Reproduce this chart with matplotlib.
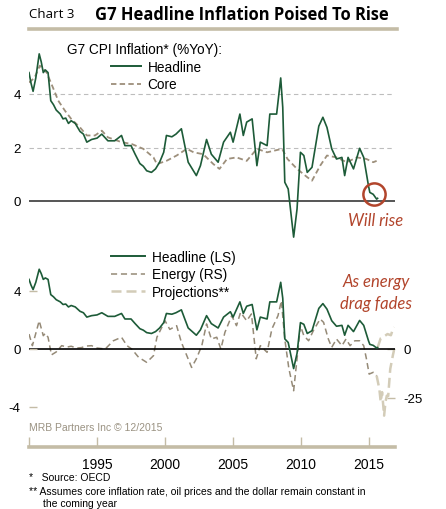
import numpy as np
import matplotlib
matplotlib.use('Agg')
import matplotlib.pyplot as plt
from matplotlib.lines import Line2D

plt.rcParams['font.family'] = ['Liberation Sans', 'DejaVu Sans']
plt.rcParams['axes.unicode_minus'] = False

# headline G7 CPI inflation, %YoY
head_t = [1990.0, 1990.15, 1990.3, 1990.5, 1990.75, 1990.9, 1991.05, 1991.2, 1991.4, 1991.6,
          1991.8, 1992.0, 1992.3, 1992.5, 1992.7, 1992.9, 1993.1, 1993.4, 1993.75, 1994.0,
          1994.25, 1994.6, 1995.0, 1995.35, 1995.8, 1996.3, 1996.8, 1997.05, 1997.5, 1997.8,
          1998.15, 1998.4, 1998.65, 1999.0, 1999.3, 1999.6, 1999.9, 2000.1, 2000.5, 2000.8,
          2001.2, 2001.45, 2001.7, 2002.0, 2002.3, 2002.6, 2003.05, 2003.4, 2003.9, 2004.3,
          2004.8, 2005.0, 2005.5, 2005.75, 2006.0, 2006.4, 2006.75, 2007.0, 2007.5, 2007.7,
          2008.2, 2008.5, 2008.65, 2008.8, 2009.05, 2009.45, 2009.7, 2009.95, 2010.2, 2010.45,
          2010.8, 2011.3, 2011.6, 2011.9, 2012.25, 2012.6, 2013.0, 2013.2, 2013.45, 2013.85,
          2014.3, 2014.6, 2014.95, 2015.05, 2015.3, 2015.55, 2015.62]
head_v = [4.8, 4.4, 4.1, 4.6, 5.5, 5.2, 4.8, 4.9, 4.8, 3.75,
          3.6, 3.4, 3.25, 3.07, 3.1, 2.9, 3.0, 2.9, 2.6, 2.5,
          2.2, 2.3, 2.35, 2.5, 2.25, 2.25, 2.45, 2.07, 2.07, 1.75,
          1.4, 1.3, 1.13, 1.07, 1.2, 1.45, 1.82, 2.45, 2.4, 2.5,
          2.7, 2.07, 1.45, 1.2, 0.95, 1.32, 2.3, 1.75, 1.45, 2.2,
          2.57, 2.2, 3.25, 2.45, 2.95, 3.07, 1.32, 2.2, 2.07, 3.25,
          3.25, 4.6, 3.5, 0.7, 0.45, -1.35, -0.3, 1.82, 1.7, 1.07,
          1.26, 2.8, 3.13, 2.75, 1.95, 1.57, 1.63, 0.95, 1.63, 1.2,
          1.97, 1.63, 0.57, 0.32, 0.25, 0.07, 0.1]

# core inflation
core_t = [1990.0, 1990.4, 1990.8, 1991.3, 1991.8, 1992.15, 1992.65, 1993.1, 1993.75, 1994.25,
          1994.85, 1995.35, 1995.8, 1996.8, 1997.55, 1998.4, 1999.15, 1999.4, 2000.1, 2000.85,
          2001.6, 2002.1, 2002.8, 2003.55, 2004.0, 2004.55, 2005.25, 2006.0, 2006.75, 2007.5,
          2008.6, 2009.0, 2009.7, 2010.45, 2010.8, 2011.4, 2011.9, 2012.6, 2013.35, 2014.1,
          2014.8, 2015.3, 2015.55]
core_v = [4.43, 4.6, 5.06, 4.8, 4.19, 3.75, 3.37, 3.07, 2.75, 2.45,
          2.45, 2.63, 2.38, 2.2, 2.13, 1.95, 1.63, 1.38, 1.5, 1.7,
          1.95, 1.82, 1.75, 1.38, 1.2, 1.57, 1.63, 1.5, 1.95, 1.82,
          1.95, 1.57, 1.2, 0.89, 0.76, 1.32, 1.7, 1.63, 1.45, 1.63,
          1.57, 1.45, 1.5]

# energy inflation (right scale)
energy_t = [1990.0, 1990.25, 1990.5, 1990.75, 1991.05, 1991.2, 1991.4, 1991.65, 1992.0, 1992.4,
            1992.8, 1993.1, 1993.5, 1993.85, 1994.2, 1994.6, 1995.0, 1995.6, 1996.2, 1996.8,
            1997.2, 1997.55, 1998.05, 1998.65, 1999.15, 1999.4, 2000.0, 2000.35, 2000.85, 2001.2,
            2001.6, 2001.95, 2002.3, 2002.7, 2003.05, 2003.4, 2003.8, 2004.1, 2004.4, 2004.9,
            2005.25, 2005.55, 2006.0, 2006.35, 2006.7, 2007.0, 2007.5, 2007.85, 2008.3, 2008.55,
            2008.8, 2009.1, 2009.45, 2009.7, 2009.95, 2010.2, 2010.55, 2010.9, 2011.4, 2011.65,
            2012.0, 2012.25, 2012.6, 2013.0, 2013.3, 2013.6, 2013.95, 2014.3, 2014.6, 2014.8,
            2015.0, 2015.3, 2015.55]
energy_v = [7.6, 1.7, 8, 14.4, 6.8, 8, 6, -3, -1.5, 1.7,
            1.0, 1.4, 0.5, 0.7, 1.5, 1.7, 0.5, 0, 4.2, 6,
            1.7, 0, -4.2, -6.8, -3.4, 6, 14.4, 10, 11.9, 3.4,
            -3.4, -9.4, -5, 1.7, 12.8, 5.1, 6, 0, 8.5, 17,
            11.9, 18.7, 14.4, 17.9, -5, 1.7, -1.7, 10.2, 17, 24.6,
            5, -10, -21.3, -5, 11.9, 6.8, 4.2, 9.4, 15.3, 13.6,
            5.1, 0.85, 5.1, 1.7, 5.1, 1.7, 4.2, 4.2, 1.7, -5,
            -12.8, -11.9, -13.6]

# projections
proj_head_t = [2015.62, 2015.85, 2016.1, 2016.35, 2016.6, 2016.75, 2016.85]
proj_head_v = [0.1, 0.74, 0.87, 1.03, 0.95, 1.38, 1.5]
proj_en_t = [2015.55, 2015.75, 2015.85, 2015.95, 2016.1, 2016.2, 2016.3, 2016.4, 2016.55, 2016.75, 2016.85]
proj_en_v = [-13.6, -20.4, -27, -22, -34, -27, -23.8, -24, -10.2, -3, 0]

years = [1990, 1995, 2000, 2005, 2010, 2015]
year_labels = ['', '1995', '2000', '2005', '2010', '2015']

W, H = 446, 510
GREEN = '#1d5b38'
CORE = '#9d8f7b'
ENERGY = '#958a77'
PROJ = '#d3ccb8'
TAN = '#c4bca6'
RED = '#b2452c'
GREY = '#555555'


def frac(x0, y0, x1, y1):
    return [x0 / W, 1 - y1 / H, (x1 - x0) / W, (y1 - y0) / H]


fig = plt.figure(figsize=(W / 100, H / 100), dpi=100)

XMIN, XMAX = 1990.0, 2016.9

# ---- title ----
fig.text(29 / W, 1 - 15 / H, 'Chart 3', fontsize=9.5, va='center', ha='left',
         family=['Open Sans', 'DejaVu Sans'])
fig.text(95 / W, 1 - 15 / H, 'G7 Headline Inflation Poised To Rise', fontsize=11.9,
         fontweight='bold', va='center', ha='left', family=['Open Sans', 'DejaVu Sans'])
fig.add_artist(Line2D([29 / W, 397 / W], [1 - 30 / H, 1 - 30 / H], color=TAN, lw=2.6))

# ---- top panel ----
y_lo, y_hi = -1.5, 6.0
top_y0 = 202 - 26.75 * y_hi
top_y1 = 202 - 26.75 * y_lo
ax1 = fig.add_axes(frac(29, top_y0, 395, top_y1))
ax1.set_xlim(XMIN, XMAX)
ax1.set_ylim(y_lo, y_hi)
for s in ax1.spines.values():
    s.set_visible(False)
ax1.set_xticks([])
ax1.set_yticks([0, 2, 4])
ax1.tick_params(axis='y', length=0, pad=6, labelsize=9.5)
for g in [2, 4]:
    ax1.axhline(g, color='#bdbdbd', lw=0.8, ls=(0, (4, 3)), zorder=1)
ax1.axhline(0, color=GREY, lw=1.4, zorder=1)
ax1.plot(core_t, core_v, color=CORE, lw=1.3, ls=(0, (3, 1.8)), zorder=2)
ax1.plot(head_t, head_v, color=GREEN, lw=1.2, zorder=3)
ax1.plot([2015.35], [0.25], marker='o', ms=16, mfc='none', mec=RED, mew=1.8, zorder=4)
ax1.text(2015.5, -0.72, 'Will rise', color=RED, fontsize=12, style='italic',
         ha='center', va='center', family=['Lato', 'DejaVu Sans'])

fig.text(67 / W, 1 - 50 / H, 'G7 CPI Inflation* (%YoY):', fontsize=9.8, va='center', ha='left')
h1 = [Line2D([], [], color=GREEN, lw=1.4), Line2D([], [], color=CORE, lw=1.3, ls=(0, (3, 1.8)))]
fig.legend(h1, ['Headline', 'Core'], loc='upper left', bbox_to_anchor=(111 / W, 1 - 61 / H),
           frameon=False, fontsize=9.8, handlelength=2.2, handletextpad=0.5,
           borderpad=0, borderaxespad=0, labelspacing=0.25)

# ---- bottom panel ----
b_lo, b_hi = -4.7, 6.5
k = 14.5 / 1.96
bot_y0 = 350 - 14.5 * b_hi
bot_y1 = 350 - 14.5 * b_lo
ax2 = fig.add_axes(frac(29, bot_y0, 395, bot_y1))
ax3 = ax2.twinx()
ax2.set_xlim(XMIN, XMAX)
ax2.set_ylim(b_lo, b_hi)
ax3.set_ylim(b_lo * k, b_hi * k)
for a in (ax2, ax3):
    for s in a.spines.values():
        s.set_visible(False)
ax2.tick_params(axis='x', bottom=False, labelbottom=False)
ax2.set_yticks([-4, 0, 4])
ax2.tick_params(axis='y', direction='in', length=6, width=1, color=TAN, pad=6, labelsize=9.5)
ax3.set_yticks([-25, 0])
ax3.tick_params(axis='y', direction='in', length=6, width=1, color=TAN, pad=6, labelsize=9.5)
ax2.axhline(0, color='black', lw=1.2, zorder=1)
ax3.plot(energy_t, energy_v, color=ENERGY, lw=1.1, ls=(0, (4, 2.5)), zorder=2)
ax3.plot(proj_en_t, proj_en_v, color=PROJ, lw=1.8, ls=(0, (4, 2)), zorder=2)
ax2.set_zorder(ax3.get_zorder() + 1)
ax2.patch.set_visible(False)
ax2.plot(head_t, head_v, color=GREEN, lw=1.2, zorder=3)
ax2.plot(proj_head_t, proj_head_v, color=PROJ, lw=1.8, ls=(0, (4, 2)), zorder=2)

fig.text(376 / W, 1 - 282 / H, 'As energy', color=RED, fontsize=12, style='italic',
         ha='center', va='center', family=['Lato', 'DejaVu Sans'])
fig.text(376 / W, 1 - 304 / H, 'drag fades', color=RED, fontsize=12, style='italic',
         ha='center', va='center', family=['Lato', 'DejaVu Sans'])

h2 = [Line2D([], [], color=GREEN, lw=1.4),
      Line2D([], [], color=ENERGY, lw=1.1, ls=(0, (4, 2.5))),
      Line2D([], [], color=PROJ, lw=1.8, ls=(0, (4, 2)))]
fig.legend(h2, ['Headline (LS)', 'Energy (RS)', 'Projections**'], loc='upper left',
           bbox_to_anchor=(111 / W, 1 - 251 / H), frameon=False, fontsize=9.8,
           handlelength=2.5, handletextpad=0.5, borderpad=0, borderaxespad=0, labelspacing=0.25)

# ---- x axis: tan bar with year ticks below the panels ----
axx = fig.add_axes(frac(29, 438, 395, 448))
axx.set_xlim(XMIN, XMAX)
axx.set_ylim(0, 1)
axx.patch.set_visible(False)
for side in ['top', 'left', 'right']:
    axx.spines[side].set_visible(False)
axx.spines['bottom'].set_color(TAN)
axx.spines['bottom'].set_linewidth(2.6)
axx.spines['bottom'].set_zorder(5)
axx.set_yticks([])
axx.set_xticks(years)
axx.set_xticklabels(year_labels)
axx.tick_params(axis='x', direction='in', length=7, width=1, color=TAN, pad=7, labelsize=10)

fig.text(29 / W, 1 - 428 / H, 'MRB Partners Inc \u00a9 12/2015', fontsize=7.5, color='#9a9282',
         va='center', ha='left')

fig.text(29 / W, 1 - 478 / H, '*   Source: OECD', fontsize=7.5, va='center', ha='left')
fig.text(29 / W, 1 - 492 / H, '** Assumes core inflation rate, oil prices and the dollar remain constant in',
         fontsize=7.5, va='center', ha='left')
fig.text(43 / W, 1 - 504 / H, 'the coming year', fontsize=7.5, va='center', ha='left')

fig.savefig('out.png', dpi=100)
